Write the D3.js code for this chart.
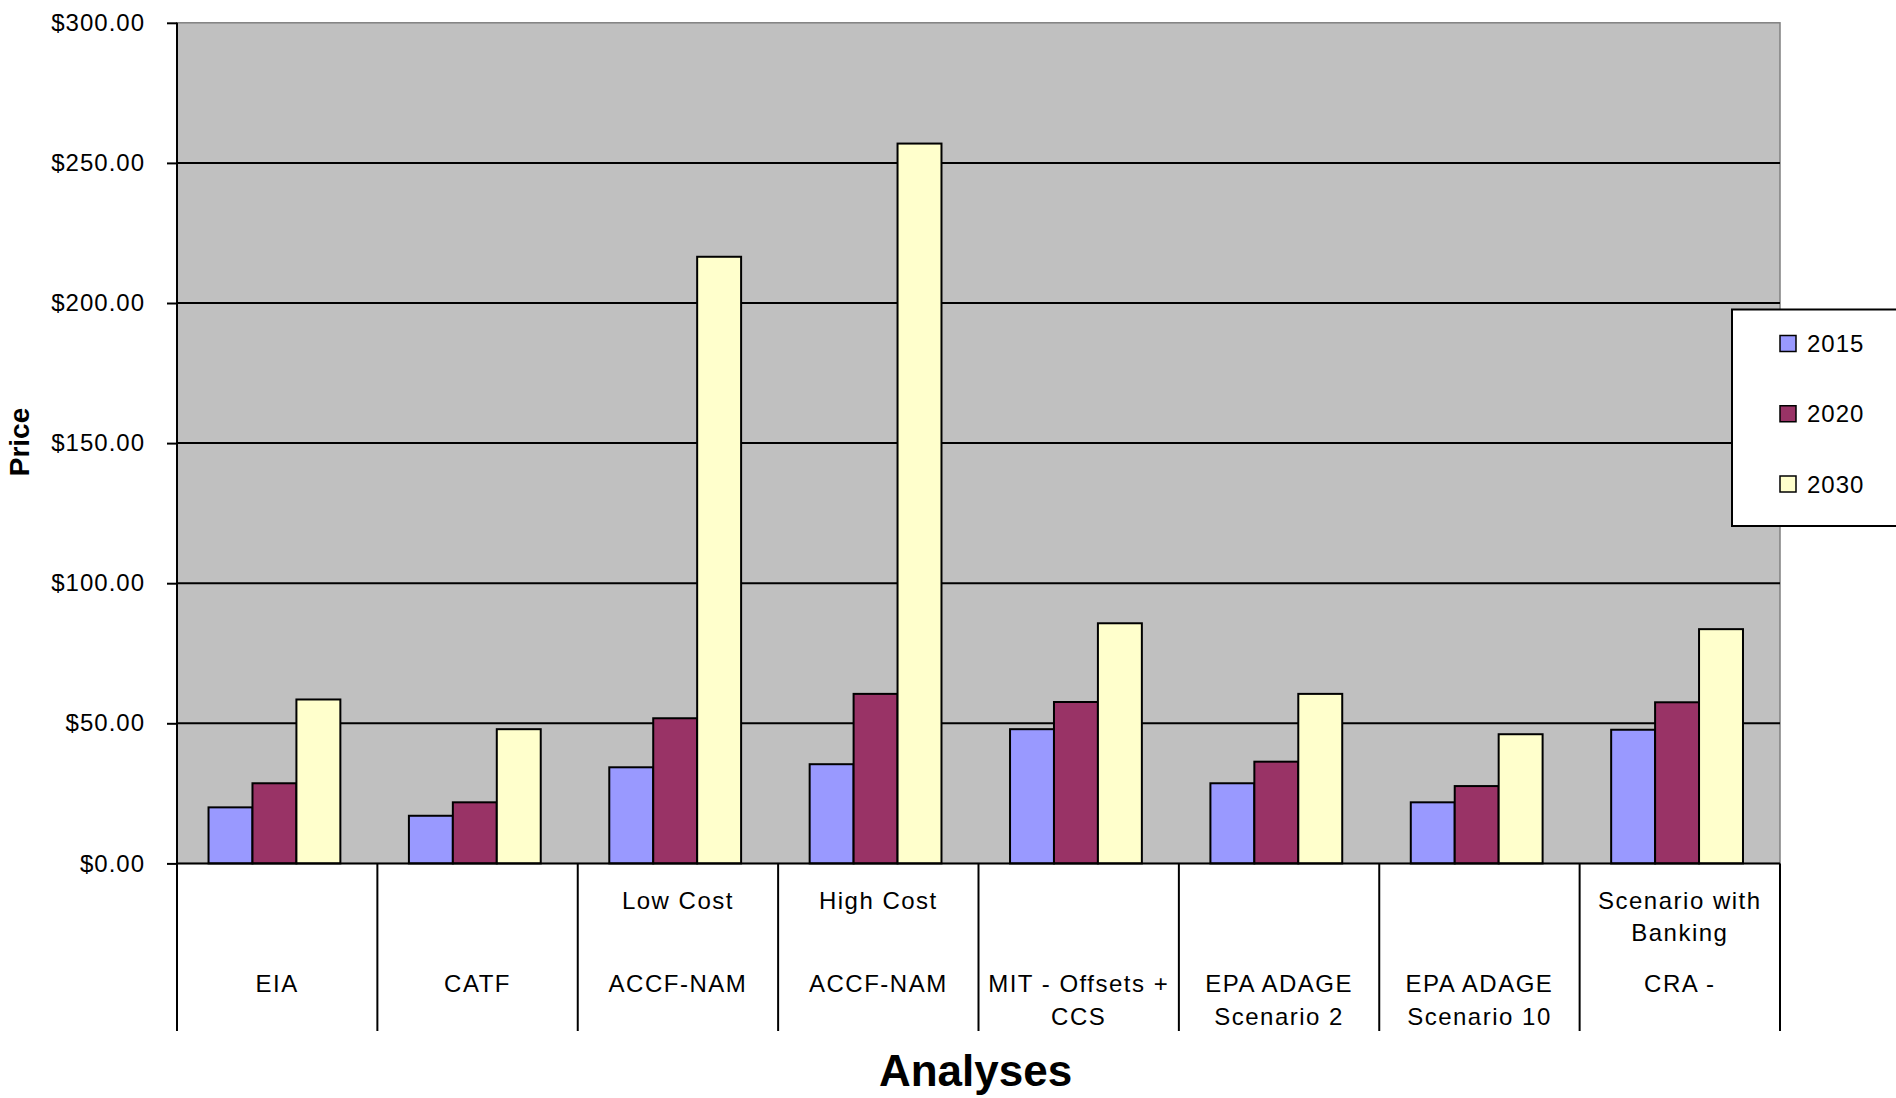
<!DOCTYPE html>
<html>
<head>
<meta charset="utf-8">
<script src="https://cdn.jsdelivr.net/npm/d3@7"></script>
<style>
  html, body { margin: 0; padding: 0; background: #ffffff; }
  svg { display: block; font-family: "Liberation Sans", Arial, sans-serif; }
</style>
</head>
<body>
<svg id="chart" width="1896" height="1098"></svg>
<script>
// Analyses of allowance prices, by study and year
const categoryTop = ["", "", "Low Cost", "High Cost", "", "", "", "Scenario with\nBanking"];
const categoryMain = ["EIA", "CATF", "ACCF-NAM", "ACCF-NAM", "MIT - Offsets +\nCCS",
                      "EPA ADAGE\nScenario 2", "EPA ADAGE\nScenario 10", "CRA -"];
const seriesNames = ["2015", "2020", "2030"];
const values2015 = [20.0, 17.0, 34.3, 35.4, 47.9, 28.6, 21.8, 47.7];
const values2020 = [28.6, 21.8, 51.8, 60.5, 57.6, 36.3, 27.6, 57.5];
const values2030 = [58.5, 47.9, 216.5, 256.9, 85.7, 60.5, 46.1, 83.6];
const yTicks = [0, 50, 100, 150, 200, 250, 300];
const seriesColors = ["#9999FF", "#993366", "#FFFFCC"];

const svg = d3.select("#chart");
const plot = { left: 177, right: 1780, top: 22.8, bottom: 863.4 };
const catBottom = 1031;

const idx = d3.range(categoryMain.length);
const x0 = d3.scaleBand().domain(idx).range([plot.left, plot.right]).paddingInner(0).paddingOuter(0);
const x1 = d3.scaleBand().domain(seriesNames).range([0, x0.bandwidth()])
  .paddingInner(0).paddingOuter(0.78).align(0.46);
const y = d3.scaleLinear().domain([0, 300]).range([plot.bottom, plot.top]);
const color = d3.scaleOrdinal().domain(seriesNames).range(seriesColors);

const seriesValues = [values2015, values2020, values2030];
const rows = idx.map(i => seriesNames.map((s, k) => ({ cat: i, series: s, value: seriesValues[k][i] })));

// plot area
svg.append("rect")
  .attr("x", plot.left).attr("y", plot.top)
  .attr("width", plot.right - plot.left).attr("height", plot.bottom - plot.top)
  .attr("fill", "#C0C0C0").attr("stroke", "#808080").attr("stroke-width", 1.5);

// horizontal gridlines
svg.append("g").selectAll("line")
  .data(yTicks.filter(t => t > 0 && t < 300))
  .join("line")
  .attr("x1", plot.left).attr("x2", plot.right)
  .attr("y1", d => y(d)).attr("y2", d => y(d))
  .attr("stroke", "#000").attr("stroke-width", 2);

// bars
svg.append("g").selectAll("g")
  .data(rows)
  .join("g")
  .attr("transform", (d, i) => `translate(${x0(i)},0)`)
  .selectAll("rect")
  .data(d => d)
  .join("rect")
  .attr("x", d => x1(d.series))
  .attr("y", d => y(d.value))
  .attr("width", x1.bandwidth())
  .attr("height", d => y(0) - y(d.value))
  .attr("fill", d => color(d.series))
  .attr("stroke", "#000").attr("stroke-width", 2);

// value axis
const yAxis = d3.axisLeft(y).tickValues(yTicks).tickFormat(d3.format("$.2f"))
  .tickSize(10).tickPadding(22);
const yg = svg.append("g").attr("transform", `translate(${plot.left},0)`).call(yAxis);
yg.select(".domain").remove();
yg.selectAll(".tick line").attr("stroke", "#000").attr("stroke-width", 2);
yg.selectAll(".tick text")
  .attr("fill", "#000").attr("font-size", 24).attr("letter-spacing", "1px")
  .attr("font-family", "'Liberation Sans', Arial, sans-serif");

// axis lines and category dividers
svg.append("line")
  .attr("x1", plot.left).attr("x2", plot.left)
  .attr("y1", plot.top).attr("y2", catBottom)
  .attr("stroke", "#000").attr("stroke-width", 2);
svg.append("line")
  .attr("x1", plot.left).attr("x2", plot.right)
  .attr("y1", y(0)).attr("y2", y(0))
  .attr("stroke", "#000").attr("stroke-width", 2);
const dividers = idx.map(i => x0(i) + x0.bandwidth());
svg.append("g").selectAll("line")
  .data(dividers)
  .join("line")
  .attr("x1", d => d).attr("x2", d => d)
  .attr("y1", y(0)).attr("y2", catBottom)
  .attr("stroke", "#000").attr("stroke-width", 2);

// category labels: upper block and main block
const lineGap = 32.5;
function drawLabels(labels, baseline) {
  svg.append("g").selectAll("text")
    .data(labels.map((t, i) => ({ t, i })))
    .join("text")
    .attr("text-anchor", "middle")
    .attr("font-size", 24).attr("letter-spacing", "1.5px")
    .attr("fill", "#000")
    .each(function (d) {
      const lines = d.t ? d.t.split("\n") : [];
      d3.select(this).selectAll("tspan")
        .data(lines)
        .join("tspan")
        .attr("x", x0(d.i) + x0.bandwidth() / 2)
        .attr("y", (l, k) => baseline + k * lineGap)
        .text(l => l);
    });
}
drawLabels(categoryTop, 908.5);
drawLabels(categoryMain, 992);

// axis titles
svg.append("text")
  .attr("x", (plot.left + plot.right) / 2 - 3).attr("y", 1086)
  .attr("text-anchor", "middle").attr("font-size", 44).attr("font-weight", "bold")
  .attr("fill", "#000").text("Analyses");
svg.append("text")
  .attr("transform", "translate(29,442) rotate(-90)")
  .attr("text-anchor", "middle").attr("font-size", 28).attr("font-weight", "bold")
  .attr("fill", "#000").text("Price");

// legend
const legend = svg.append("g");
legend.append("rect")
  .attr("x", 1732).attr("y", 309.5).attr("width", 200).attr("height", 216.5)
  .attr("fill", "#fff").attr("stroke", "#000").attr("stroke-width", 2);
const legendY = d3.scalePoint().domain(seriesNames).range([343.5, 484]);
const items = legend.selectAll("g.item").data(seriesNames).join("g").attr("class", "item")
  .attr("transform", d => `translate(1780,${legendY(d)})`);
items.append("rect")
  .attr("x", 0).attr("y", -8).attr("width", 16).attr("height", 16)
  .attr("fill", d => color(d)).attr("stroke", "#000").attr("stroke-width", 1.5);
items.append("text")
  .attr("x", 27).attr("y", 8.5)
  .attr("font-size", 24).attr("letter-spacing", "1px").attr("fill", "#000")
  .text(d => d);
</script>
</body>
</html>
